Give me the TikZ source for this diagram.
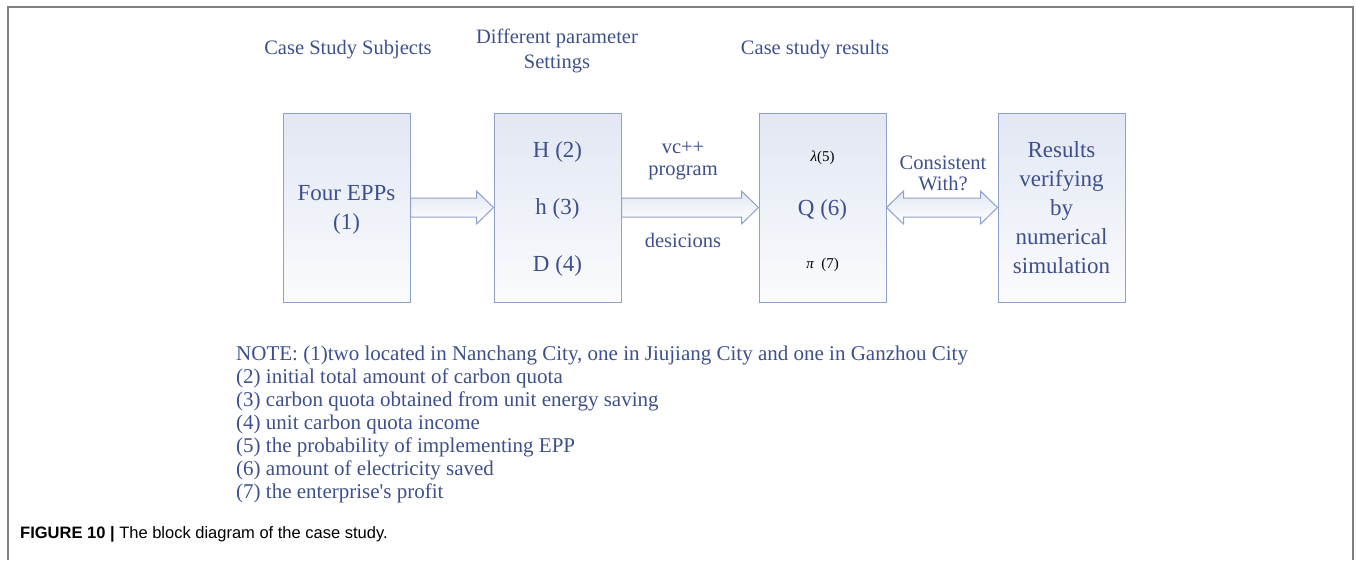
\documentclass[tikz,border=0pt]{standalone}
\usepackage{fontspec}
\setmainfont{Liberation Serif}
\newfontfamily\plainserif{Liberation Serif}
\newfontfamily\capfont{Liberation Sans}
\usetikzlibrary{calc}
\definecolor{txt}{RGB}{62,80,140}
\definecolor{boxline}{RGB}{142,160,203}
\definecolor{boxtop}{RGB}{226,231,243}
\definecolor{boxbot}{RGB}{250,251,253}
\definecolor{framec}{RGB}{128,128,128}
\tikzset{
  stagebox/.style={draw=boxline, line width=1pt, top color=boxtop, bottom color=boxbot,
    minimum width=127pt, minimum height=189pt, inner sep=0pt},
  lbl/.style={text=txt, font=\fontsize{20.5}{22}\selectfont, align=center, inner sep=0pt},
  big/.style={text=txt, font=\fontsize{23}{29}\selectfont, align=center, inner sep=0pt},
  small/.style={text=black, font=\fontsize{15}{17}\selectfont, inner sep=0pt},
  note/.style={text=txt, font=\fontsize{21}{23}\selectfont, anchor=west, inner sep=0pt},
  blockarrow/.style={draw=boxline, line width=1pt, top color=boxtop, bottom color=white,
    to path={let \p1=(\tikztostart), \p2=(\tikztotarget) in
      (\x1,\y1+9.5pt) -- (\x2-17pt,\y1+9.5pt) -- (\x2-17pt,\y1+16.5pt) -- (\x2,\y1)
      -- (\x2-17pt,\y1-16.5pt) -- (\x2-17pt,\y1-9.5pt) -- (\x1,\y1-9.5pt) -- cycle}},
  dblarrow/.style={draw=boxline, line width=1pt, top color=boxtop, bottom color=white,
    to path={let \p1=(\tikztostart), \p2=(\tikztotarget) in
      (\x1,\y1) -- (\x1+17pt,\y1+16.5pt) -- (\x1+17pt,\y1+9.5pt) -- (\x2-17pt,\y1+9.5pt)
      -- (\x2-17pt,\y1+16.5pt) -- (\x2,\y1) -- (\x2-17pt,\y1-16.5pt) -- (\x2-17pt,\y1-9.5pt)
      -- (\x1+17pt,\y1-9.5pt) -- (\x1+17pt,\y1-16.5pt) -- cycle}}
}
\begin{document}
\begin{tikzpicture}[x=1pt,y=-1pt]
\useasboundingbox (0,0) rectangle (1356,560);
% outer frame
\draw[framec, line width=1.6pt] (8,560) -- (8,7) -- (1353,7) -- (1353,560);

% headers
\node[lbl] (h1) at (348,50) {Case Study Subjects};
\node[lbl, font=\fontsize{20.5}{25}\selectfont] (h2) at (557,51) {Different parameter\\Settings};
\node[lbl] (h3) at (815,50) {Case study results};

% boxes
\node[stagebox] (b1) at (346.5,207.5) {};
\node[stagebox] (b2) at (557.5,207.5) {};
\node[stagebox] (b3) at (822.5,207.5) {};
\node[stagebox] (b4) at (1061.5,207.5) {};

% box texts
\node[big] (t1) at (346.5,210) {Four EPPs\\(1)};
\node[big] (t2a) at (557.5,152) {H (2)};
\node[big] (t2b) at (557.5,209) {h (3)};
\node[big] (t2c) at (557.5,266) {D (4)};
\node[small] (t3a) at (822.5,158) {{\itshape λ}(5)};
\node[big] (t3b) at (822.5,210) {Q (6)};
\node[small] (t3c) at (822.5,265) {{\itshape π}\ \ (7)};
\node[big] (t4) at (1061.5,208) {Results\\verifying\\by\\numerical\\simulation};

% arrows
\draw[blockarrow] (b1.east) to (b2.west);
\draw[blockarrow] (b2.east) to (b3.west);
\draw[dblarrow] (b3.east) to (b4.west);

% arrow labels
\node[lbl] (l1) at (683,161) {vc++\\program};
\node[lbl] (l2) at (683,240) {desicions};
\node[lbl, font=\fontsize{20.5}{21}\selectfont] (l3) at (943,173) {Consistent\\With?};

% notes
\node[note] (n1) at (236,355) {NOTE: (1)two located in Nanchang City, one in Jiujiang City and one in Ganzhou City};
\node[note] (n2) at (236,378) {(2) initial total amount of carbon quota};
\node[note] (n3) at (236,401) {(3) carbon quota obtained from unit energy saving};
\node[note] (n4) at (236,424) {(4) unit carbon quota income};
\node[note] (n5) at (236,447) {(5) the probability of implementing EPP};
\node[note] (n6) at (236,470) {(6) amount of electricity saved};
\node[note] (n7) at (236,493) {(7) the enterprise{\plainserif '}s profit};

% caption
\node[anchor=west, inner sep=0pt, font=\capfont\fontsize{16.5}{18}\selectfont] (cap) at (20,534)
  {\textbf{FIGURE 10 |} The block diagram of the case study.};
\end{tikzpicture}
\end{document}
